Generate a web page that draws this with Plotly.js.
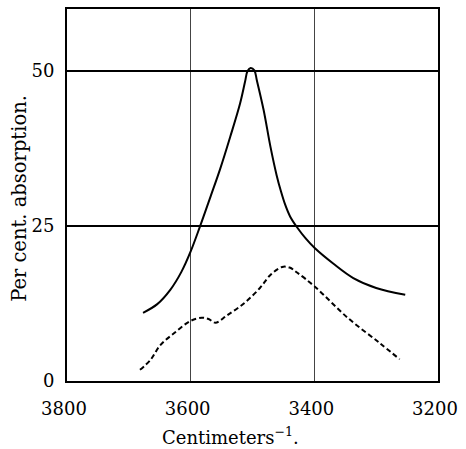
<!DOCTYPE html>
<html><head><meta charset="utf-8">
<script src="https://cdn.plot.ly/plotly-3.0.1.min.js"></script>
<style>html,body{margin:0;padding:0;background:#fff}</style>
</head><body>
<div id="chart" style="width:466px;height:449px"></div>
<script>
const solidX = [3677, 3654, 3633, 3615, 3600, 3585, 3568, 3552, 3536, 3520, 3512, 3508, 3503, 3497, 3493, 3482, 3471, 3461, 3454, 3447, 3439, 3428, 3414, 3399, 3369, 3337, 3300, 3253];
const solidY = [11.0, 12.4, 14.7, 17.6, 20.9, 24.9, 29.7, 34.3, 39.4, 44.8, 48.3, 50.0, 50.5, 50.1, 48.5, 43.7, 37.8, 33.2, 30.6, 28.4, 26.5, 24.8, 23.0, 21.4, 18.9, 16.6, 15.0, 13.9];
const dashX = [3682, 3665, 3649, 3627, 3600, 3582, 3571, 3560, 3541, 3514, 3488, 3471, 3452, 3440, 3428, 3399, 3345, 3294, 3262];
const dashY = [1.8, 3.4, 5.8, 7.7, 9.7, 10.2, 10.0, 9.4, 10.6, 12.5, 15.0, 17.1, 18.4, 18.3, 17.5, 15.2, 10.1, 6.1, 3.5];
const xTicks = [3800, 3600, 3400, 3200];
const yTicks = [0, 25, 50];
const xTitle = 'Centimeters<sup>−1</sup>.';
const yTitle = 'Per cent. absorption.';

const font = {family: '"DejaVu Serif", "Liberation Serif", serif', color: '#000'};
Plotly.newPlot('chart', [
  {x: solidX, y: solidY, mode: 'lines', line: {color: '#000', width: 2, shape: 'spline', smoothing: 1}, hoverinfo: 'skip'},
  {x: dashX, y: dashY, mode: 'lines', line: {color: '#000', width: 2, dash: '5px,3px', shape: 'spline', smoothing: 1}, hoverinfo: 'skip'}
], {
  width: 466, height: 449,
  margin: {l: 67, r: 28, t: 9, b: 68},
  showlegend: false,
  paper_bgcolor: '#fff', plot_bgcolor: '#fff',
  font: Object.assign({size: 18}, font),
  xaxis: {
    range: [3800, 3200], tickvals: xTicks, ticktext: xTicks.map(String),
    showgrid: true, gridcolor: '#444', gridwidth: 1,
    showline: true, linecolor: '#000', linewidth: 2, mirror: true,
    zeroline: false, ticks: '', ticklabelstandoff: 10, ticklabelshift: 3,
    tickfont: Object.assign({size: 18}, font)
  },
  yaxis: {
    range: [0, 60], tickvals: yTicks, ticktext: yTicks.map(String),
    showgrid: true, gridcolor: '#000', gridwidth: 1.5,
    showline: true, linecolor: '#000', linewidth: 2, mirror: true,
    zeroline: false, ticks: '', ticklabelstandoff: 7,
    tickfont: Object.assign({size: 18}, font)
  },
  annotations: [
    {text: xTitle, xref: 'paper', yref: 'paper', x: 0.442, y: -0.148, xanchor: 'center', yanchor: 'middle', showarrow: false, font: Object.assign({size: 18}, font)},
    {text: yTitle, xref: 'paper', yref: 'paper', x: -0.127, y: 0.492, xanchor: 'center', yanchor: 'middle', textangle: -90, showarrow: false, font: Object.assign({size: 19.5}, font)}
  ]
}, {displayModeBar: false, staticPlot: true});
</script>
</body></html>
